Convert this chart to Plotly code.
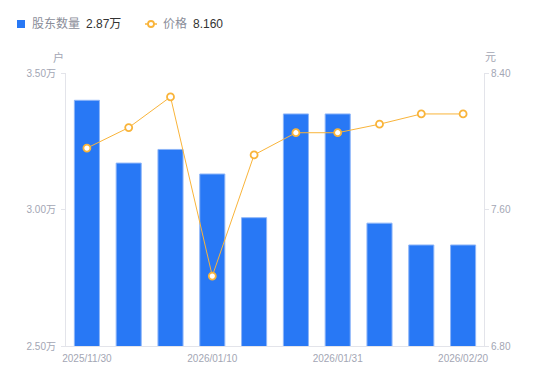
import plotly.graph_objects as go

dates = ["2025/11/30", "2025/12/10", "2025/12/31", "2026/01/10", "2026/01/20",
         "2026/01/23", "2026/01/31", "2026/02/10", "2026/02/13", "2026/02/20"]
holders = [3.40, 3.17, 3.22, 3.13, 2.97, 3.35, 3.35, 2.95, 2.87, 2.87]  # 万户
price = [7.96, 8.08, 8.26, 7.21, 7.92, 8.05, 8.05, 8.10, 8.16, 8.16]
shown_dates = ["2025/11/30", "2026/01/10", "2026/01/31", "2026/02/20"]
left_ticks = [2.5, 3.0, 3.5]
left_labels = ["2.50万", "3.00万", "3.50万"]
right_ticks = [6.8, 7.6, 8.4]
right_labels = ["6.80", "7.60", "8.40"]

# page body has an 8px margin; figure is placed at (8, 8)
OFF = 8
W, H = 542, 373
L, T = 66 - OFF, 73 - OFF
R = W - (484 - OFF)
B = H - (346 - OFF)
pw, ph = W - L - R, H - T - B

def px(x):  # page x -> paper
    return (x - OFF - L) / pw

def py(y):  # page y -> paper
    return (H - B - (y - OFF)) / ph

BLUE = "#2878F5"
ORANGE = "#F9B43A"
GRAY = "#A3A6B4"
AXIS = "#E3E4EA"
FONT = "Liberation Sans, Noto Sans CJK SC, sans-serif"

fig = go.Figure()
fig.add_trace(go.Bar(x=dates, y=holders, marker=dict(color=BLUE, line=dict(color="#8DB5F8", width=1)),
                     name="股东数量", yaxis="y"))
fig.add_trace(go.Scatter(x=dates, y=price, mode="lines+markers", yaxis="y2", name="价格",
                         line=dict(color=ORANGE, width=1),
                         marker=dict(symbol="circle", size=7, color="white",
                                     line=dict(color=ORANGE, width=1.8))))

fig.update_layout(
    width=W, height=H,
    margin=dict(l=L, r=R, t=T, b=B, autoexpand=False),
    paper_bgcolor="white", plot_bgcolor="white",
    showlegend=False, bargap=0.4,
    font=dict(family=FONT, size=10, color=GRAY),
    xaxis=dict(type="category", range=[-0.5, len(dates) - 0.5], tickmode="array",
               tickvals=shown_dates, ticktext=shown_dates,
               showline=True, linecolor=AXIS, linewidth=1, ticks="", showgrid=False,
               ticklabelstandoff=3, automargin=False,
               tickfont=dict(size=10, color=GRAY), zeroline=False),
    yaxis=dict(range=[2.5, 3.5], tickvals=left_ticks, ticktext=left_labels, showgrid=False,
               showline=True, linecolor=AXIS, linewidth=1, ticks="outside", ticklen=4,
               ticklabelstandoff=3, automargin=False,
               tickcolor=AXIS, tickfont=dict(size=10, color=GRAY), zeroline=False),
    yaxis2=dict(range=[6.8, 8.4], tickvals=right_ticks, ticktext=right_labels, overlaying="y",
                side="right", showgrid=False, showline=True, linecolor=AXIS, linewidth=1,
                ticks="outside", ticklen=4, tickcolor=AXIS, tickfont=dict(size=10, color=GRAY),
                zeroline=False, automargin=False),
)

# unit labels
fig.add_annotation(x=px(58), y=py(57), xref="paper", yref="paper", text="户", showarrow=False,
                   font=dict(size=11, color=GRAY), xanchor="center", yanchor="middle")
fig.add_annotation(x=px(490), y=py(57), xref="paper", yref="paper", text="元", showarrow=False,
                   font=dict(size=11, color=GRAY), xanchor="center", yanchor="middle")

# legend
fig.add_shape(type="rect", xref="paper", yref="paper", x0=px(17), x1=px(25), y0=py(28), y1=py(20),
              fillcolor=BLUE, line=dict(width=0))
fig.add_annotation(x=px(30), y=py(24), xref="paper", yref="paper", text="股东数量", showarrow=False,
                   font=dict(size=12, color="#8A8D99"), xanchor="left", yanchor="middle")
fig.add_annotation(x=px(84), y=py(24), xref="paper", yref="paper", text=f"{holders[-1]:.2f}万",
                   showarrow=False, font=dict(size=12, color="#333333"), xanchor="left", yanchor="middle")
fig.add_shape(type="line", xref="paper", yref="paper", x0=px(145), x1=px(157), y0=py(24), y1=py(24),
              line=dict(color=ORANGE, width=1.5))
fig.add_shape(type="circle", xref="paper", yref="paper", x0=px(148), x1=px(154), y0=py(27), y1=py(21),
              fillcolor="white", line=dict(color=ORANGE, width=1.8))
fig.add_annotation(x=px(161), y=py(24), xref="paper", yref="paper", text="价格", showarrow=False,
                   font=dict(size=12, color="#8A8D99"), xanchor="left", yanchor="middle")
fig.add_annotation(x=px(191), y=py(24), xref="paper", yref="paper", text=f"{price[-1]:.3f}",
                   showarrow=False, font=dict(size=12, color="#333333"), xanchor="left", yanchor="middle")

fig.write_html("out.html")
